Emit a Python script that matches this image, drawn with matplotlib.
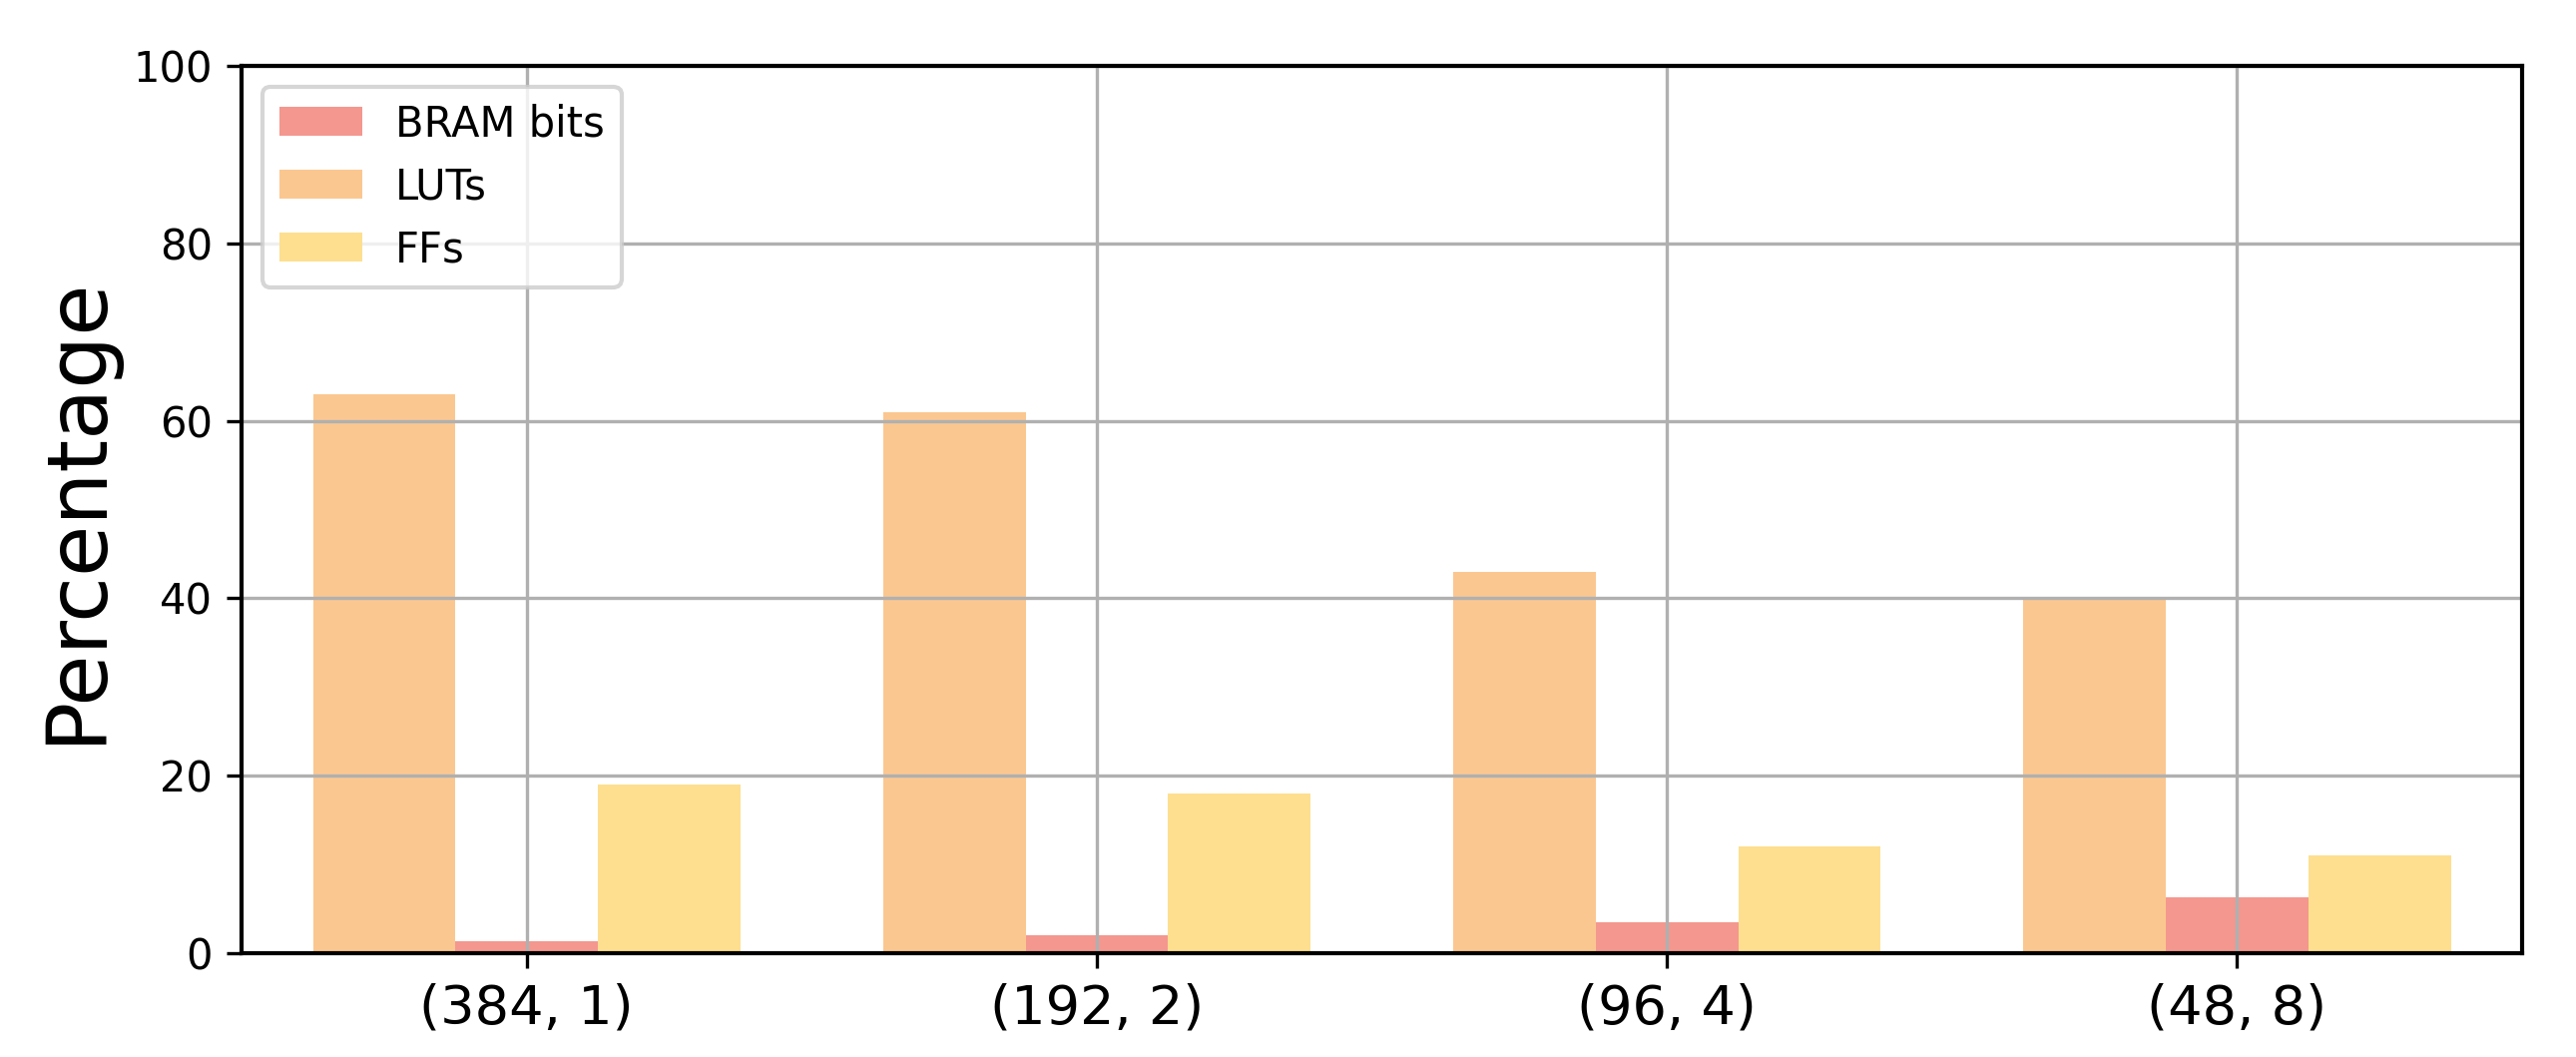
import numpy as np
import matplotlib
matplotlib.use("Agg")
import matplotlib.pyplot as plt

configs = ["(384, 1)", "(192, 2)", "(96, 4)", "(48, 8)"]
bram_bits = [1.3, 2.0, 3.5, 6.3]
luts = [63, 61, 43, 40]
ffs = [19, 18, 12, 11]

width = 0.25
x = np.arange(len(configs))

plt.rcParams["axes.linewidth"] = 1.0

fig = plt.figure(figsize=(2581 / 300, 1059 / 300), dpi=300)
ax = fig.add_axes([0.0938, 0.0982, 0.9791 - 0.0938, 0.9377 - 0.0982])

ax.bar(x, bram_bits, width, color="#f4978f", label="BRAM bits")
ax.bar(x - width, luts, width, color="#fbc790", label="LUTs")
ax.bar(x + width, ffs, width, color="#fddf8f", label="FFs")

ax.set_xlim(-0.5, 3.5)
ax.set_ylim(0, 100)
ax.set_xticks(x)
ax.set_xticklabels(configs, fontsize=13)
ax.set_yticks([0, 20, 40, 60, 80, 100])
ax.tick_params(axis="y", labelsize=10)
ax.set_ylabel("Percentage", fontsize=20)
ax.grid(True)
ax.legend(loc="upper left", fontsize=10)

fig.savefig("out.png", dpi=300)
